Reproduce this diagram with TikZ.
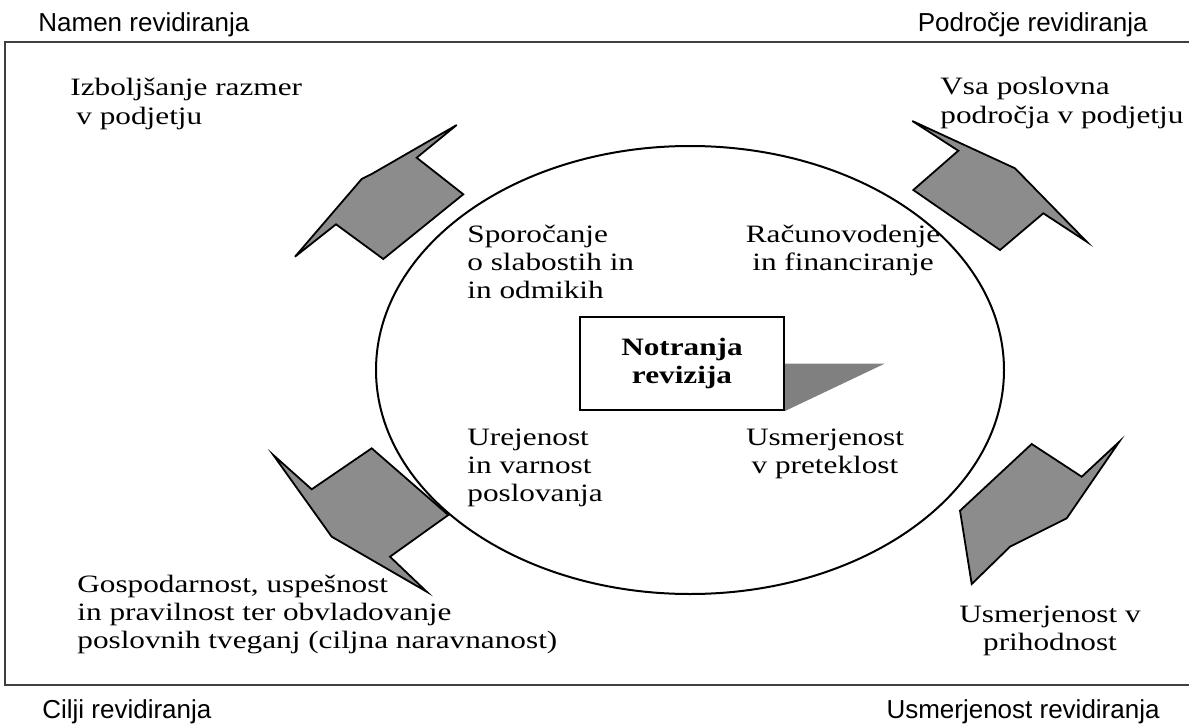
\documentclass[tikz,border=0pt]{standalone}
\usepackage{fontspec}
\setmainfont{Liberation Serif}[FakeStretch=1.25]
\newfontfamily\hdfont{Liberation Sans}
\usetikzlibrary{shapes.geometric,backgrounds}
\tikzset{
  body/.style={inner sep=0pt, font=\fontsize{12.5pt}{14.15pt}\selectfont},
  head/.style={inner sep=0pt, font=\hdfont\fontsize{13pt}{15pt}\selectfont},
  pointer/.style={draw=black, fill=black!45, line width=0.9pt, line join=miter},
  frameline/.style={draw=black!75, line width=1.1pt},
}
\begin{document}
\begin{tikzpicture}[x=0.5pt,y=-0.5pt]
\useasboundingbox (0,0) rectangle (1189,728);
% frame
\draw[frameline] (1189,42) -- (5,42) -- (5,685) -- (1189,685);
% headers
\node[head, anchor=base west] (namen) at (38,32) {Namen revidiranja};
\node[head, anchor=base east] (podrocje) at (1148,32) {Področje revidiranja};
\node[head, anchor=base west] (cilji) at (42,718) {Cilji revidiranja};
\node[head, anchor=base east] (usmrev) at (1160,718) {Usmerjenost revidiranja};
% ellipse
\node[ellipse, draw, line width=1pt, minimum width=314pt, minimum height=224pt, inner sep=0pt] (ell) at (690,370) {};
% central box
\node[draw, line width=1pt, fill=white, minimum width=102pt, minimum height=46.5pt, inner sep=0pt,
      font=\bfseries\fontsize{12.5pt}{14pt}\selectfont, align=center] (box) at (682,363.5) {\raisebox{-2pt}{Notranja}\\\raisebox{-2pt}{revizija}};
\begin{pgfonlayer}{background}
\fill[black!50] (box.east) -- ++(100,0) -- (box.south east) -- cycle;
\end{pgfonlayer}
% inner texts (anchor = baseline of last line)
\node[body, anchor=base west, align=left] (spor) at (467,298.6) {Sporočanje\\o slabostih in\\in odmikih};
\node[body, anchor=base, align=center] (racun) at (843,270.3) {Računovodenje\\in financiranje};
\node[body, anchor=base west, align=left] (urej) at (467,501.6) {Urejenost\\in varnost\\poslovanja};
\node[body, anchor=base, align=center] (usmp) at (825,473.3) {Usmerjenost\\v preteklost};
% outer texts
\node[body, anchor=base west, align=left] (izb) at (70,124) {Izboljšanje razmer\\\hspace*{3pt}v podjetju};
\node[body, anchor=base west, align=left] (vsa) at (940,123) {Vsa poslovna\\področja v podjetju};
\node[body, anchor=base west, align=left] (gosp) at (77,648.6) {Gospodarnost, uspešnost\\in pravilnost ter obvladovanje\\poslovnih tveganj (ciljna naravnanost)};
\node[body, anchor=base, align=center] (usmv) at (1050,650.3) {Usmerjenost v\\prihodnost};
% pointers
\draw[pointer] (295,256.7) -- (361.7,179) -- (371.7,174) -- (456.7,125) -- (416.7,157.7) -- (463.3,194.3) -- (383.3,259) -- (336,224.3) -- cycle;
\draw[pointer] (912.3,121) -- (1015,168.3) -- (1086.7,241.7) -- (1043.3,213.3) -- (1000,250) -- (913.3,190) -- (958.3,150.7) -- cycle;
\draw[pointer] (273.3,455) -- (311.7,489.3) -- (371.7,448.3) -- (448.3,515) -- (390,556.7) -- (426.7,591.7) -- (331.7,536.7) -- cycle;
\draw[pointer] (1031.7,444) -- (1081.7,476.7) -- (1119.3,441.7) -- (1066.7,518.3) -- (1010,546.7) -- (971.7,584) -- (960,510.7) -- cycle;
\end{tikzpicture}
\end{document}
